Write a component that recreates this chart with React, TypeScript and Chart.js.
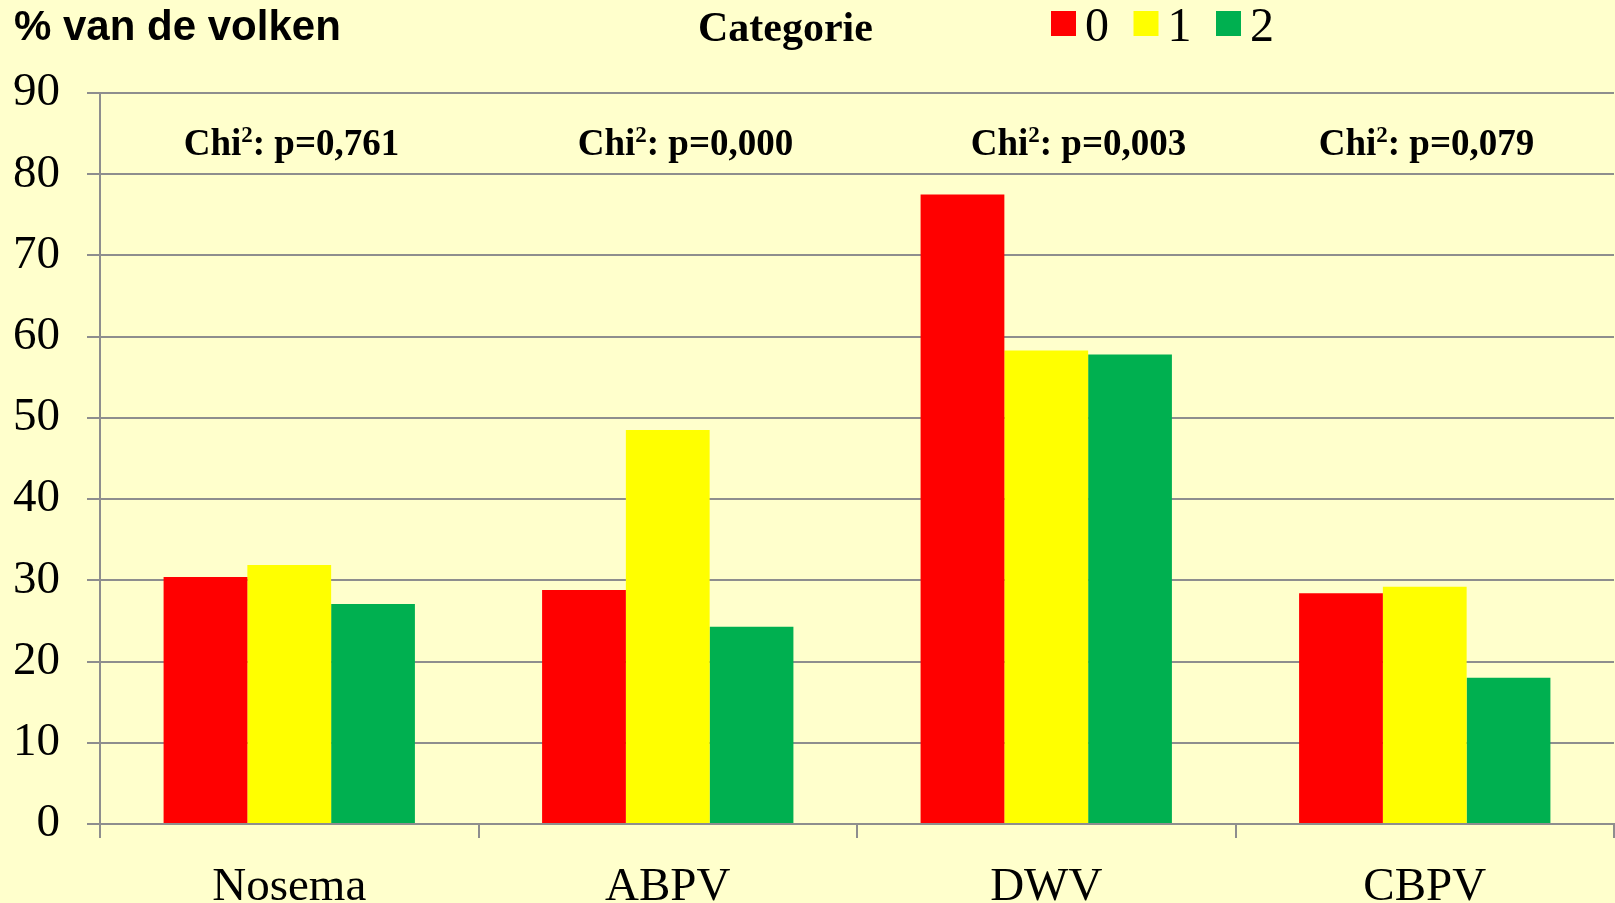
import React, { useEffect, useRef } from 'react';
import { Chart, registerables } from 'chart.js';

Chart.register(...registerables);

const categories = ['Nosema', 'ABPV', 'DWV', 'CBPV'];
const seriesLabels = ['0', '1', '2'];
const seriesColors = ['#FF0000', '#FFFF00', '#00B050'];
const values0 = [30.4, 28.8, 77.5, 28.4];
const values1 = [31.9, 48.5, 58.3, 29.2];
const values2 = [27.1, 24.3, 57.8, 18.0];
const chiPValues = ['0,761', '0,000', '0,003', '0,079'];
const yMin = 0;
const yMax = 90;
const yStep = 10;
const yAxisTitle = '% van de volken';
const legendTitle = 'Categorie';

const BG = '#FFFFCC';
const GRID = '#8E8E8E';
// layout of the hand-placed annotation boxes (pixel centres)
const CHI_CENTER_X = [291.5, 685.5, 1078.5, 1426.5];

const overlayPlugin = {
  id: 'overlay',
  beforeDraw(chart: any) {
    const ctx = chart.ctx;
    ctx.save();
    ctx.fillStyle = BG;
    ctx.fillRect(0, 0, chart.width, chart.height);
    ctx.restore();
  },
  afterDraw(chart: any) {
    const ctx = chart.ctx;
    ctx.save();
    ctx.textBaseline = 'alphabetic';
    ctx.textAlign = 'left';
    ctx.fillStyle = '#000';
    ctx.font = 'bold 42px "Liberation Sans", Arial, sans-serif';
    ctx.fillText(yAxisTitle, 14, 40);
    ctx.font = 'bold 42px "Liberation Serif", "Times New Roman", serif';
    ctx.fillText(legendTitle, 698, 41);

    chart.data.datasets.forEach((ds: any, i: number) => {
      const x = 1051 + i * 82.5;
      ctx.fillStyle = ds.backgroundColor;
      ctx.fillRect(x, 11, 25, 25);
      ctx.fillStyle = '#000';
      ctx.font = '48px "Liberation Serif", "Times New Roman", serif';
      ctx.fillText(ds.label, x + 34, 41);
    });

    const big = 'bold 37px "Liberation Serif", "Times New Roman", serif';
    const small = 'bold 23px "Liberation Serif", "Times New Roman", serif';
    chiPValues.forEach((p: string, i: number) => {
      const cx = CHI_CENTER_X[i];
      const rest = ': p=' + p;
      ctx.font = big;
      const w1 = ctx.measureText('Chi').width;
      const w3 = ctx.measureText(rest).width;
      ctx.font = small;
      const w2 = ctx.measureText('2').width;
      let x = cx - (w1 + w2 + w3) / 2;
      const base = 155;
      ctx.font = big;
      ctx.fillText('Chi', x, base);
      x += w1;
      ctx.font = small;
      ctx.fillText('2', x, base - 13);
      x += w2;
      ctx.font = big;
      ctx.fillText(rest, x, base);
    });
    ctx.restore();
  },
};

export default function App() {
  const ref = useRef<HTMLCanvasElement | null>(null);
  useEffect(() => {
    if (!ref.current) return;
    const valueSets = [values0, values1, values2];
    const chart = new Chart(ref.current, {
      type: 'bar',
      data: {
        labels: categories,
        datasets: seriesLabels.map((l, i) => ({
          label: l,
          data: valueSets[i],
          backgroundColor: seriesColors[i],
          borderWidth: 0,
          categoryPercentage: 0.664,
          barPercentage: 1,
        })),
      },
      options: {
        responsive: false,
        animation: false,
        layout: { padding: { top: 93, right: 1, left: 0, bottom: 0 } },
        plugins: {
          legend: { display: false },
          tooltip: { enabled: false },
          title: { display: false },
        },
        scales: {
          x: {
            afterFit: (s: any) => { s.height = 79; },
            grid: {
              offset: true,
              drawOnChartArea: false,
              drawTicks: true,
              tickLength: 14,
              color: GRID,
              lineWidth: 2,
            },
            border: { display: true, color: GRID, width: 2 },
            ticks: {
              color: '#000',
              padding: 21,
              font: { family: '"Liberation Serif", "Times New Roman", serif', size: 47 },
            },
          },
          y: {
            min: yMin,
            max: yMax,
            afterFit: (s: any) => { s.width = 100; },
            grid: {
              color: GRID,
              lineWidth: 2,
              tickLength: 13,
              drawTicks: true,
            },
            border: { display: true, color: GRID, width: 2 },
            ticks: {
              stepSize: yStep,
              color: '#000',
              padding: 27,
              font: { family: '"Liberation Serif", "Times New Roman", serif', size: 47 },
            },
          },
        },
      },
      plugins: [overlayPlugin],
    });
    return () => chart.destroy();
  }, []);
  return (
    <div style={{ position: 'absolute', left: 0, top: 0, width: 1615, height: 903, background: BG, overflow: 'hidden' }}>
      <canvas ref={ref} width={1615} height={903} style={{ display: 'block' }} />
    </div>
  );
}
